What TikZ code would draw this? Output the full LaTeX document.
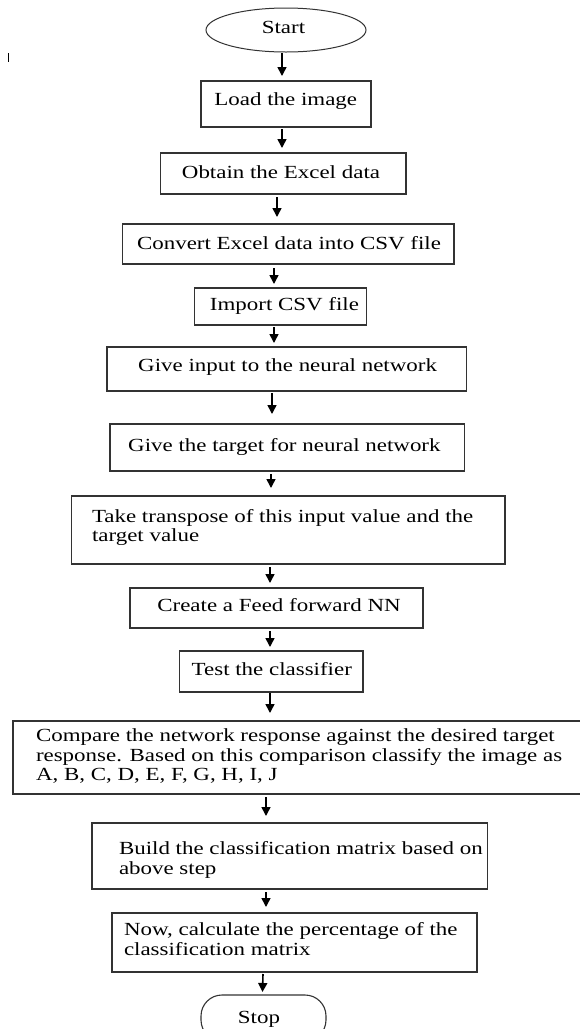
\documentclass[tikz,border=0pt]{standalone}
\usepackage{fontspec}
\setmainfont[FakeStretch=1.24]{Liberation Serif}
\usetikzlibrary{arrows.meta,calc,shapes.geometric}
\definecolor{edge}{HTML}{333333}
\tikzset{
  box/.style={draw=edge, line width=1.1pt, rectangle, inner sep=0pt, outer sep=0pt},
  oval/.style={draw=edge, line width=1pt, ellipse, inner sep=0pt, outer sep=0pt},
  term/.style={draw=edge, line width=1.1pt, rectangle, rounded corners=21pt, inner sep=0pt, outer sep=0pt},
  txt/.style={inner sep=0pt, outer sep=0pt, font=\fontsize{18.5}{19.5}\selectfont, text=black},
  mtxt/.style={txt, align=left, anchor=base west},
  arr/.style={line width=1.6pt, -{Triangle[length=9pt,width=9pt]}}
}
\begin{document}
\begin{tikzpicture}[x=1pt,y=-1pt]
\useasboundingbox (0,0) rectangle (580,1029);
\clip (0,0) rectangle (580,1029);
\fill[white] (0,0) rectangle (580,1029);
% stray tick
\draw[line width=1.5pt] (8.3,53) -- (8.3,62);
% boxes
\node[oval, minimum width=160pt, minimum height=44pt] (start) at (286,30) {};
\node[box, minimum width=170pt, minimum height=46pt] (load) at (286,104) {};
\node[box, minimum width=245.5pt, minimum height=41pt] (obtain) at (283.25,173.5) {};
\node[box, minimum width=331.6pt, minimum height=40pt] (convert) at (288.2,244) {};
\node[box, minimum width=171.6pt, minimum height=37pt] (import) at (280.4,306.5) {};
\node[box, minimum width=359.4pt, minimum height=44pt] (input) at (286.7,369) {};
\node[box, minimum width=354.6pt, minimum height=47pt] (target) at (287.3,447.5) {};
\node[box, minimum width=433.5pt, minimum height=68pt] (take) at (288.25,530) {};
\node[box, minimum width=293pt, minimum height=40pt] (create) at (276.5,608) {};
\node[box, minimum width=183.5pt, minimum height=41pt] (test) at (271.25,671.5) {};
\node[box, minimum width=587pt, minimum height=73pt] (compare) at (306.5,757.5) {};
\node[box, minimum width=395.5pt, minimum height=66pt] (build) at (289.75,856) {};
\node[box, minimum width=365pt, minimum height=59pt] (now) at (294.5,942.5) {};
\node[term, minimum width=125pt, minimum height=46pt] (stop) at (263.5,1018) {};
% texts
\node[txt, anchor=base] (tstart) at (283.5,33) {Start};
\node[txt, anchor=base] (tload) at (285.8,105) {Load the image};
\node[txt, anchor=base] (tobtain) at (281,178.3) {Obtain the Excel data};
\node[txt, anchor=base] (tconvert) at (289,249.3) {Convert Excel data into CSV file};
\node[txt, anchor=base] (timport) at (284.5,310.7) {Import CSV file};
\node[txt, anchor=base] (tinput) at (287.6,371.7) {Give input to the neural network};
\node[txt, anchor=base] (ttarget) at (284.4,451.7) {Give the target for neural network};
\node[mtxt] (ttake) at (92,541.7) {Take transpose of this input value and the\\target value};
\node[txt, anchor=base] (tcreate) at (279,611.7) {Create a Feed forward NN};
\node[txt, anchor=base] (ttest) at (271.8,675) {Test the classifier};
\node[mtxt] (tcompare) at (36,780.5) {Compare the network response against the desired target\\response. Based on this comparison classify the image as\\A, B, C, D, E, F, G, H, I, J};
\node[mtxt] (tbuild) at (119,874.3) {Build the classification matrix based on\\above step};
\node[mtxt] (tnow) at (124,955.3) {Now, calculate the percentage of the\\classification matrix};
\node[txt, anchor=base] (tstop) at (259,1023.3) {Stop};
% arrows
\draw[arr] ($(start.south)+(-4,1)$) -- ($(load.north)+(-4,-5)$);
\draw[arr] ($(load.south)+(-4,2)$) -- ($(obtain.north)+(-1.25,-5)$);
\draw[arr] ($(obtain.south)+(-6.25,3)$) -- ($(convert.north)+(-11.2,-7)$);
\draw[arr] ($(convert.south)+(-14.2,4)$) -- ($(import.north)+(-6.4,-4)$);
\draw[arr] ($(import.south)+(-6.4,2)$) -- ($(input.north)+(-12.7,-4)$);
\draw[arr] ($(input.south)+(-14.7,2)$) -- ($(target.north)+(-15.3,-10)$);
\draw[arr] ($(target.south)+(-16.3,3)$) -- ($(take.north)+(-17.25,-8)$);
\draw[arr] ($(take.south)+(-18.25,3)$) -- ($(create.north)+(-6.5,-5)$);
\draw[arr] ($(create.south)+(-6.5,3)$) -- ($(test.north)+(-1.25,-4)$);
\draw[arr] ($(test.south)+(-1.25,1)$) -- ($(compare.north)+(-36.5,-8)$);
\draw[arr] ($(compare.south)+(-40.5,3)$) -- ($(build.north)+(-23.75,-7)$);
\draw[arr] ($(build.south)+(-23.75,3)$) -- ($(now.north)+(-28.5,-6)$);
\draw[arr] ($(now.south)+(-31.5,2)$) -- ($(stop.north)+(-1,-3)$);
\end{tikzpicture}
\end{document}
